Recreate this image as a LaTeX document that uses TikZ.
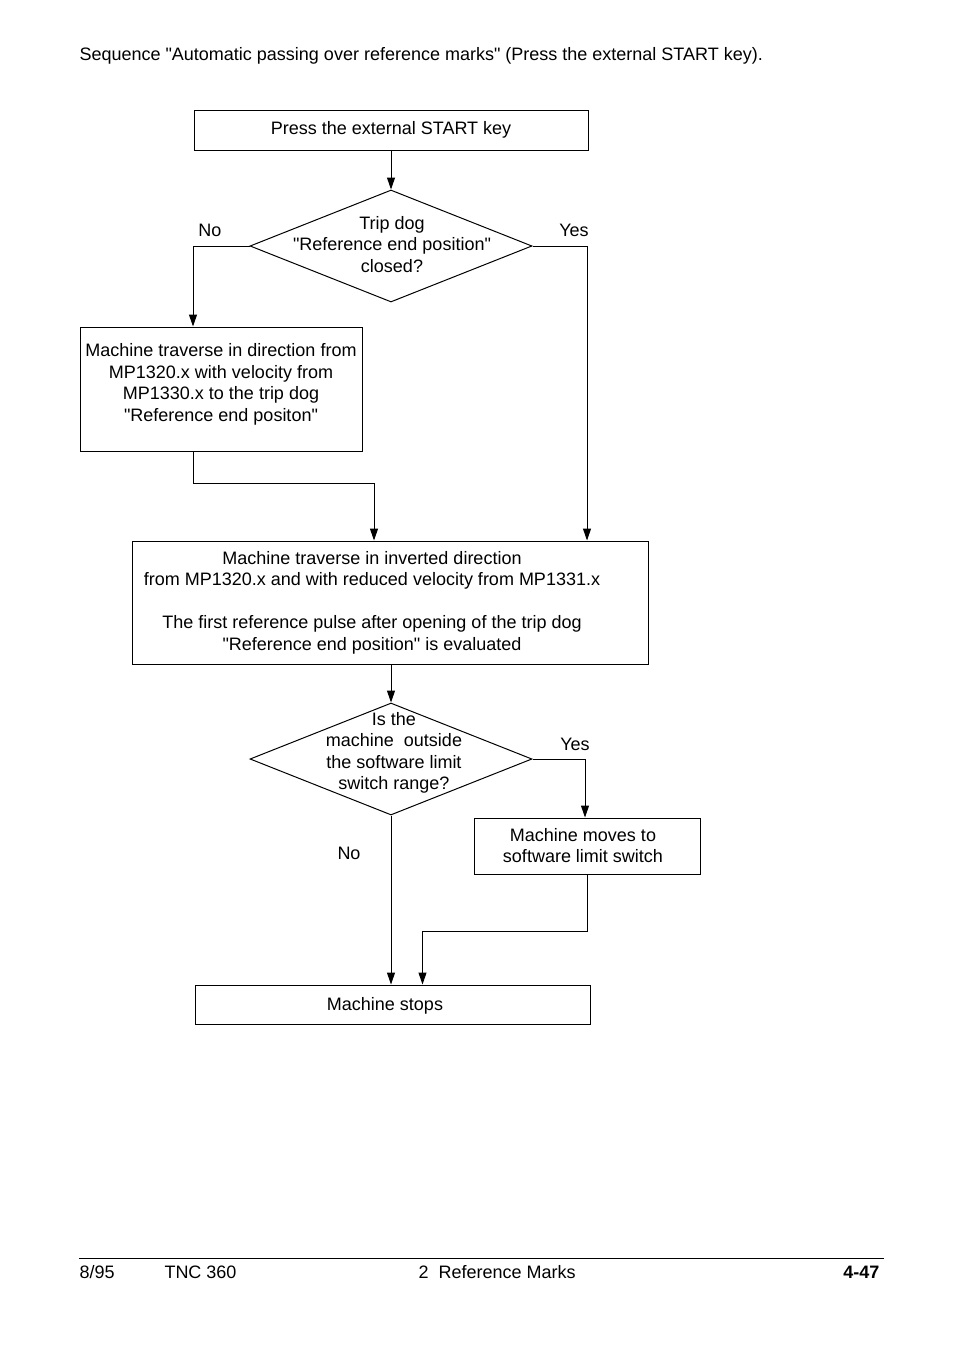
\documentclass[tikz,border=0pt]{standalone}
\usepackage{fontspec}
\setmainfont{Liberation Sans}
\usetikzlibrary{shapes.geometric,arrows.meta}

\begin{document}
\begin{tikzpicture}
            [x=1pt,y=-1pt,line width=1pt,
             every node/.style={font=\fontsize{18}{21.5}\selectfont,inner sep=0pt},
             box/.style={draw,rectangle,align=center},
             dec/.style={draw,diamond},
             txt/.style={align=center},
             flow/.style={-{Triangle[length=12pt,width=8pt]}}]
            \useasboundingbox (0,0) rectangle (954,1346);
            \node[anchor=base west] (title) at (79,61) {Sequence \textquotedbl Automatic passing over reference marks\textquotedbl\ (Press the external START key).};

            \node[box,minimum width=394pt,minimum height=40pt] (start) at (391,130) {Press the external START key};
            \node[dec,minimum width=282pt,minimum height=112pt] (d1) at (391,246) {};
            \node[txt] (d1t) at (392,244.5) {Trip dog\\\textquotedbl Reference end position\textquotedbl\\closed?};
            \node[box,minimum width=282pt,minimum height=124pt] (b2) at (221,389) {};
            \node[txt] (b2t) at (221,384.5) {Machine traverse in direction from\\MP1320.x with velocity from\\MP1330.x to the trip dog\\\textquotedbl Reference end positon\textquotedbl};
            \node[box,minimum width=516pt,minimum height=123pt] (b3) at (390,602.5) {};
            \node[txt] (b3t) at (372,602.5) {Machine traverse in inverted direction\\from MP1320.x and with reduced velocity from MP1331.x\\[21.5pt]The first reference pulse after opening of the trip dog\\\textquotedbl Reference end position\textquotedbl\ is evaluated};
            \node[dec,minimum width=282pt,minimum height=112pt] (d2) at (391,759) {};
            \node[txt] (d2t) at (394,753) {Is the\\machine\ \ outside\\the software limit\\switch range?};
            \node[box,minimum width=226pt,minimum height=56pt] (b4) at (587,846) {};
            \node[txt] (b4t) at (583,845.5) {Machine moves to\\software limit switch};
            \node[box,minimum width=395pt,minimum height=39pt] (stop) at (392.5,1004.5) {};
            \node (stopt) at (385,1005.5) {Machine stops};

            \node (no1) at (210,230) {No};
            \node (yes1) at (574,230) {Yes};
            \node (yes2) at (575,744) {Yes};
            \node (no2) at (349,853) {No};

            \draw[flow] (start.south) -- (d1.north);
            \draw[flow] (d1.west) -| ([xshift=-28pt]b2.north);
            \draw[flow] (d1.east) -| ([xshift=197pt]b3.north);
            \draw[flow] ([xshift=-28pt]b2.south) -- ++(0,32) -| ([xshift=-16pt]b3.north);
            \draw[flow] (b3.south -| d2.north) -- (d2.north);
            \draw[flow] (d2.east) -| ([xshift=-2pt]b4.north);
            \draw[flow] (d2.south) -- (d2.south |- stop.north);
            \draw[flow] (b4.south) -- ++(0,57) -| ([xshift=30pt]stop.north);

            \draw (79,1258) -- (884,1258);
            \node[anchor=base west] (date) at (79,1278) {8/95};
            \node[anchor=base west] (tnc) at (164,1278) {TNC 360};
            \node[anchor=base west] (chap) at (418,1278) {2\ \ Reference Marks};
            \node[anchor=base east] (page) at (880,1278) {\bfseries 4-47};

        \end{tikzpicture}
\end{document}
